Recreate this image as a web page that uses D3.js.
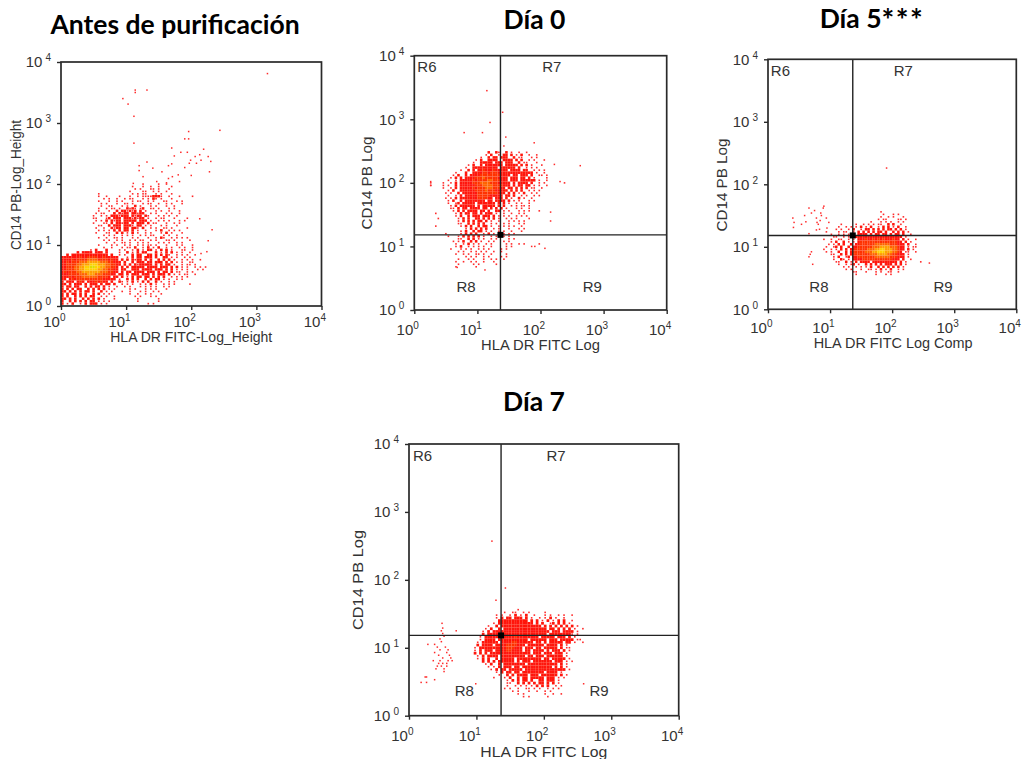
<!DOCTYPE html>
<html>
<head>
<meta charset="utf-8">
<script src="https://cdn.jsdelivr.net/npm/d3@7"></script>
<style>
  body { margin: 0; background: #fff; }
  svg { display: block; }
</style>
</head>
<body>
<div id="chart"></div>
<script>
const tickValues = [1, 10, 100, 1000, 10000];
const gateX = 23.2, gateY = 15.2;
const regionLabels = [["R6", 0.2, 3.82], ["R7", 2.18, 3.82], ["R8", 0.82, 0.36], ["R9", 2.82, 0.36]];
const levelColors = { 1: "#ff2a2a", 2: "#ff1208", 3: "#ff3200", 4: "#ff6400", 5: "#ffa000", 6: "#ffd000", 7: "#dcdc00" };

// event density, one text row per 0.04 decade of CD14, one character per 0.04 decade of HLA DR
// . empty, 1 single event, 2..7 rising density. origin is [log x of first column, log y of first row]
const gridOriginA = [0, 1.98];
const densityA = [
"...............................1.....1..1......",
"...........................1...1..1..1....1",
"............................1.1...11.1...1",
"..........................1....11..1.1..1",
"..............1............1.1.11...1.1...1",
"..............1..1....1...1..1.11112221..1...1....1",
"................1.1..1..1.11...1.1.21.1...1",
"..............1...1..1.1...1.11..1.1...11...1.1",
"...............1.1...1..11.1...1.11..1..1.1...1",
"...............1..11...1.1..2.1...1.1...1..1",
"..............1..1.11.1..2121.12..11.1...1.1",
"..............1...1..2.221212.2.1...1.1..1...1",
".............1.11...2.2122.22122..1.1...1.1..1",
"............1..1.1.2221222.2122.21...1.1.1..1",
"............11...12.222.22212122.1..1.11...1....1",
".............1.1.2.2122.22222.222.1..1.1.1...1.1",
"............1...11.2.22122.2.222.2.11...1..1.1",
"..............11..2.222.2221.22.1.1...1.1...1",
".............1..1..2122.22.221.2..1.1..11.1.....1",
"..............1.1.1.2.2.22.2.1..1...1.2..1.1.1",
".............1...11..2.2.1.2.1..1.1...1.2.1...1",
"................1.1.1..1.1.1..1.1.11...1.1..1",
"..............1..1..11.1...1.1...1..1.21..1.1.1.1",
"................1.1..1.1..1.1.11..1.1...11.1.....1",
".................1..1..11.1..1.1.1...1.1.1..1.1",
"..............1....1.1..1.1..1.1.11.1...1...1.1...1",
"................1..1...1.11.2..1.2.1.2..1.1..1.1..1",
"...........1.2...2....1.1..1.2.1.22.1.2.2.1...11..1",
"......2.2222.222.2....1..2.1.2.22...2.1.2.2.1.1..1",
"..2.22222222222222.2..1.1..2.22..22.2.2.21..1.1.1..1",
"2222222322333322322222...1.2.22.222.2..22.1.1..1.1",
"2222323333444433332322.2.2.2122.2.2..2.2.2.1..1.1.1..1",
"22323334445555544433222.2..2.222.22.222.2.2.1.1..11",
"22333344555666555443322.2.2.2122222.2.2.22.1..1.11.1",
"2233344556677665544332.2.2.22222.2222.222.2.2.1.1..1.1.1",
"2233344556666655443322.22..222.2222.222.2.2.1.1.1...1.1",
"2323334455555554443322.2.22.2222.222.2.22.2.11..1.1",
"222333344455544433322.22.2.222.222.2.222.2.1.1.11..1",
"2223233344444433332.22.2.1.2.22.22.2.2.2..1.1.1.1",
"22.232333333333322222.1..2.2.2..2.2.22.1.1..1.1",
"2.222.232.22232322.2..21.1.2.1.2.2..2.1..1.1",
"22.2.222.2.222.2.22.2..1.1.1..1.1.2.1..1.1.1.....1",
"2.22.22..2.2.22.2.1..1..1.1...1.1.1.1..1.1",
"2.2.2.22..2.2.2.2.1.1.....1.1...1.1.1...1",
"22.2.2.2.22.2..2.1.1...1..1...1.1..1.1",
"2.2.22.2.2..2.2.1.1.......1..1..1.1...1",
"2.2..2.2.2.22..1.1..1.......1.1...1.1",
"22.2.2..2.2.2.2.1...1........1.......1",
"2..2.2.2.2.22.1.1.1..........1.......1",
"2.1.2..1.2.222.1.1...............1.1"
];
const outliersA = [[3.17,3.81],[1.14,3.54],[1.14,3.5],[1.32,3.54],[.95,3.4],[1.03,3.31],[1.12,3.11],[1.12,2.67],[2.44,2.88],[1.96,2.86],[1.9,2.74],[1.96,2.74],
  [1.7,2.59],[2.19,2.57],[1.94,2.52],[1.84,2.52],[1.74,2.46],[2.13,2.48],[2.06,2.45],[2.26,2.45],[2.15,2.39],[2.3,2.37],[1.99,2.39],[2.08,2.34],[1.97,2.34],[1.9,2.27],
  [2.28,2.2],[2,2.14],[1.7,2.33],[1.65,2.3],[1.2,2.3],[1.2,2.22],[1.32,2.36],[1.41,2.26],[1.55,2.2],[1.65,2.09],[1.71,2.12],[1.8,2.15],[1.82,2.04],[1.26,2.12],[1.11,2.01],
  [1.47,2.04],[1.62,2.02],[2.13,1.43],[2.32,1.25],[2.26,1.07],[2.15,.86],[2.24,.89]];

const gridOriginB = [0.24, 2.46];
const densityB = [
".......................2..21..2.1..1..1",
"......................1.2..1.22.2.1.2..1..1",
"....................1..2.22.222..2.11...1.1",
"..................1.2..2222..2222.2.2..1.1...1",
".................1..22222.222.222..2.11...1",
"...............1.2..2.2222222.22222.2.2.1...1",
"..............1..2222222222.222222.2..1.1.1",
"............1..2.2.223222322222.2222.22..1.1.1",
"..........1...2..222233233322222222222222.1..1",
".........1.2..2.2222333333332222.22.222.2..11.1",
"........1.2.2.22223334333332222.222.22.2.1....1",
".......1..1.2222232333344333222.222.222222.1..1",
"1....1..1.2.22222333444433322222.2.2222.2..1.1.......1",
"1....1.1..2.22222233344443333222.2.22.22.1.1..1",
".....1..1.2.222223233344433322.22.2.2.2.11..1",
".......1.2..2222223333433322222.2.2.2..1.1.1",
"......1.1..2.22222233333333222.2.2.1.2..1.1",
".......1..1.2.222223333322222.22.2..1.1..1.1",
"......1.1.2.2222222333322.222.2.1..2.1..1",
".......1.2..2.22222222.22.2222.2.1.1...1.1",
".......1..12.22222.2222222.2.2.1..1.1..1",
"........1.2.222222.2.22222.2.2..1.1.11.1",
"........11.2.22.2222.22.2.2.2.1...1.1..1",
".........1.2.2.2222.22.2..22.1.1...1.1.1...1",
"..1.......1.2.22.22.2.222.1..1..1..1.1",
"..........1.2..2.222.222.2.1.1.1..1.1.1",
"...1.......1.2.2..22.2.2.2.1..1.1.1....1",
"...........1.2.2.2.22.2.1..1...1.1.1.1",
"...........11..2.2.2.2..1.1..1.1...1.1",
"..1.........1.2.2..2.22.1..1.1.1.1..1",
"..............1.2.2.2.2..1.1...1...1.1",
"............1.2..2.22.1.1..1.1..1...1",
"......1.....1.2.2.2..1.2.1...1.1.1",
".......1...1.2.2.2.2.1..1.1..1.1",
"...........11..2.2.1.1..1.1....1.1",
".........1.1.2..2.2.1..1.1...1.1",
"..........1..1.2.1.1..1.1.....1.1..1.1.....1",
"..........1.2..1.1.1.1..1.....1.1",
"........1...1.1.1..1.1.1....1.1",
"...........1.1..1.1.1.1..1..1",
"..........1..1.1..11.1..1.....1",
"..............1.1.1..1.1....1.1",
"...........1...1.1...1..1.1..1",
"..........1..1..1.1..1...1",
"...........1.....1.1......1",
"..........1.......1"
];
const outliersB = [[1.15,3.45],[1.4,3.11],[1.2,2.95],[.79,2.79],[1.08,2.79],[1.45,2.72],[1.9,2.63],[1.42,2.58],[2.22,2.29],[2.63,2.27],[2.31,2.02],[.26,2.02],[.26,1.96],
  [2.16,1.54],[2.16,1.4],[2.07,.97],[1.86,1],[1.91,1],[.68,.67],[1.12,.63]];

const gridOriginC = [0.8, 1.54];
const densityC = [
".........................1......",
"..........................1...1.1",
".........................1..1.1...1",
"........................1.11....11.1",
".....................1...1.1.1..1.1",
".........1.....1..1.1.1.11..2.2..1",
"........1..1.1.1.2.1.2..1.2.2.1.2..1",
".......1.1..1.2..1.22.2.2.2.22.2.2.1",
"...1....1.11..1.2.2.2.2.22.2..2.2.2.1",
".....1..1.1.1.1.2222.2.22.22.2.22.2..1",
"......11..1.1.22222222222222222222.1",
"..1..1..11..1.1.22232232323222322.2.1..1",
".....1.2..2.1.1.233333333333333322.2.1",
"....1.1.2.2..2.22333333444444333222.2..1",
"...1..12.2..2.223333334445555444322.1.11",
"..1..1.1.2.2.2233333444556655544322.2.1",
"...1.1..2..2.233333444556665554432.11..1",
".....11..2.2.2333333344455554433222.1",
"......1.2..12.223333333444444333222.1",
"......1..21.1.2222333333333333222.2..1",
".......11..2.1.2.2222.2222222222.2.1.....1",
"........1..1.12.1..2.2.2.2.222.2.2.1",
"..........1.1..1.1.1.2..2.2.2.2.2.1",
"...........1.1...1..11.1.2.1.2..1.1",
"..............11...1...1.1..11..1",
"...............1.......1...1.1"
];
const outliersC = [[1.91,2.26],[.66,1.62],[.9,1.65],[.89,1.62],[.75,1.58],[.7,1.54],[.59,1.5],[.4,1.46],[.42,1.39],[.41,1.31],[.54,1.36],[.61,1.4],[.78,1.46],[.81,1.36],[.79,1.39],
  [.84,1.42],[.86,1.5],[.94,1.46],[.98,1.39],[.95,1.3],[.83,1.28],[.78,1.27],[.66,1.21],[.85,1.54],[.7,.92],[.68,.88],[.66,.84],[2.6,.74],[.72,.72]];

const gridOriginD = [0.84, 1.54];
const densityD = [
"...................1",
"..............1..11..1.1.....1",
"...........1.1..1.2.1.2..1...1.1..1.1..1",
"...........1.2.22.222.2.1..1.1.2.1..1",
"............22222222222.2.2.1.2.1.2.2..1",
"..........1.2222222222222.2.2..12.2.2.1",
"........1..2.222222222222222.2.2.2.2.2.2.1",
".......1.2..2.2222222222222222.22.2.2.2.1..1",
"......1.2.222222222222222222222.222.2222.1",
"......2.2222222222222222222222.222222221.1",
".....1.22222222222322222222.22222.222.2.1",
".....1.2222.22222222222.222222.222.22222.11",
"....1.222222.222233222222.22.2.22222.22.1..1",
"....2.2222.22223333222.222222.2222.2.1",
"...1.2222222222333222.222.22.22222.2.11",
"...1.2.222.2222332222.22.2222.2.222.2.1",
"...2.2.2.222222222222222.222.222.222.1",
"....1.2.2222.222222222.22.222.222222.1",
"....1.2.2..2.22222.222222222.22.22222.1",
"......2.2.2.222222.2.222.2222222.222.1.1",
".......1.2..2.22222222.22222222222.2.1",
"........1.1.2.222.22.22222222222.2.2.1",
".........1.2.22.22222.222222222222222.1",
"...........1.2.22.22.22222222.2222.1",
"............1..2.2.2222.222.222222.2.1",
"..........1...1.2..2.22.22222.222.1.1",
"...............1.2.2.22.2..22.222.1",
"...............11..2.2.2.2.22.2.2.1",
"...............1..1.1.1.1.2.2.2..1.1",
"..............1.1..1..11.1.1..1.1.1",
".................1.1...1..1..1.1",
"...................1.1.......1..1..1",
".....................1.1......1"
];
const outliersD = [[1.23,2.57],[1.43,1.88],[1.29,1.7],[.49,1.36],[.5,1.29],[.48,1.25],[.7,1.25],[.5,1.21],[.52,1.17],[.46,1.13],[.48,1.09],[.28,1.05],[.38,1.05],[.42,1.01],[.54,1.01],[.46,.97],[.58,.97],
  [.38,.93],[.56,.93],[.44,.89],[.6,.89],[.5,.85],[.62,.85],[.36,.81],[.46,.81],[.58,.81],[.64,.81],[.44,.77],[.5,.77],[.56,.77],[.42,.73],[.48,.73],[.56,.73],[.4,.69],[.52,.69],[.52,.65],[.24,.57],[.26,.57],[.38,.53],[.18,.49],[.26,.49],[.99,.47],[2.59,.47]];

// where each plot sits on the page and its labels
const panels = [
  { title: "Antes de purificación", titleX: 175, titleY: 34, left: 61, right: 321.5, top: 62, bottom: 306, xLabel: "HLA DR FITC-Log_Height", yLabel: "CD14 PB-Log_Height", xLabelY: 342, yLabelX: 21, yLabelC: 185, xLen: 162, yLen: 130, xPad: 6, grid: densityA, origin: gridOriginA, outliers: outliersA, gates: false },
  { title: "Día 0", titleX: 534.5, titleY: 29, left: 414.3, right: 666.7, top: 55.7, bottom: 310, xLabel: "HLA DR FITC Log", yLabel: "CD14 PB Log", xLabelY: 350, yLabelX: 372, yLabelC: 183, xLen: 119, yLen: 93, xPad: 10, grid: densityB, origin: gridOriginB, outliers: outliersB, gates: true },
  { title: "Día 5", stars: "***", titleX: 872, titleY: 28, left: 768, right: 1016.3, top: 59.3, bottom: 309.3, xLabel: "HLA DR FITC Log Comp", yLabel: "CD14 PB Log", xLabelY: 348, yLabelX: 727, yLabelC: 185, xLen: 159, yLen: 93, xPad: 9, grid: densityC, origin: gridOriginC, outliers: outliersC, gates: true },
  { title: "Día 7", titleX: 534, titleY: 411, left: 409, right: 678.7, top: 444, bottom: 715.7, xLabel: "HLA DR FITC Log", yLabel: "CD14 PB Log", xLabelY: 757, yLabelX: 363, yLabelC: 580, xLen: 127, yLen: 100, xPad: 11, grid: densityD, origin: gridOriginD, outliers: outliersD, gates: true }
];

const cellDecades = 0.04;
const axisFont = "'Liberation Sans', Arial, sans-serif";
const textColor = "#333";
const svg = d3.select("#chart").append("svg").attr("width", 1022).attr("height", 759);
const defs = svg.append("defs");
defs.append("filter").attr("id", "soft")
  .append("feGaussianBlur").attr("stdDeviation", 0.45);

panels.forEach((p, idx) => {
  const x = d3.scaleLog().domain([1, 10000]).range([p.left, p.right]);
  const y = d3.scaleLog().domain([1, 10000]).range([p.bottom, p.top]);
  const g = svg.append("g");

  const title = g.append("text")
    .attr("x", p.titleX).attr("y", p.titleY)
    .attr("text-anchor", "middle")
    .style("font-family", "Lato, sans-serif").style("font-weight", "bold").style("font-size", "26.5px")
    .text(p.title);
  if (p.stars) title.append("tspan").style("font-size", "30px").attr("dy", 3).style("letter-spacing", "1.5px").text(p.stars);

  defs.append("clipPath").attr("id", "clip" + idx).append("rect")
    .attr("x", p.left).attr("y", p.top).attr("width", p.right - p.left).attr("height", p.bottom - p.top);
  const plot = g.append("g").attr("clip-path", `url(#clip${idx})`).append("g").attr("filter", "url(#soft)");

  // density cells
  const cells = [];
  p.grid.forEach((row, r) => {
    [...row].forEach((ch, c) => {
      if (ch !== ".") cells.push({ lx: p.origin[0] + c * cellDecades, ly: p.origin[1] - r * cellDecades, level: +ch });
    });
  });
  const cellW = d => x(10 ** (d.lx + cellDecades)) - x(10 ** d.lx);
  const cellH = d => y(10 ** d.ly) - y(10 ** (d.ly + cellDecades));
  plot.selectAll("rect.cell").data(cells).join("rect")
    .attr("class", "cell")
    .attr("x", d => x(10 ** d.lx) + (d.level === 1 ? 0.5 : 0))
    .attr("y", d => y(10 ** (d.ly + cellDecades)) + (d.level === 1 ? 0.5 : 0))
    .attr("width", d => d.level === 1 ? 1.6 : cellW(d))
    .attr("height", d => d.level === 1 ? 1.6 : cellH(d))
    .attr("fill", d => levelColors[d.level]);

  plot.selectAll("rect.outlier").data(p.outliers).join("rect")
    .attr("class", "outlier")
    .attr("x", d => x(10 ** d[0]) - 0.75)
    .attr("y", d => y(10 ** d[1]) - 0.75)
    .attr("width", 1.5).attr("height", 1.5)
    .attr("fill", levelColors[1]);

  if (p.gates) {
    g.append("line").attr("x1", x(gateX)).attr("x2", x(gateX)).attr("y1", p.top).attr("y2", p.bottom)
      .attr("stroke", "#222").attr("stroke-width", 1.4);
    g.append("line").attr("x1", p.left).attr("x2", p.right).attr("y1", y(gateY)).attr("y2", y(gateY))
      .attr("stroke", "#222").attr("stroke-width", 1.4);
    g.append("rect").attr("x", x(gateX) - 3).attr("y", y(gateY) - 3).attr("width", 6).attr("height", 6).attr("fill", "#000");
    g.selectAll("text.region").data(regionLabels).join("text")
      .attr("class", "region")
      .attr("x", d => x(10 ** d[1]))
      .attr("y", d => y(10 ** d[2]) + 5)
      .attr("text-anchor", "middle")
      .style("font-family", axisFont).style("font-size", "15px").attr("fill", textColor)
      .text(d => d[0]);
  }

  g.append("rect").attr("x", p.left).attr("y", p.top).attr("width", p.right - p.left).attr("height", p.bottom - p.top)
    .attr("fill", "none").attr("stroke", "#2a2a2a").attr("stroke-width", 1.7);

  const xAxis = g.append("g").attr("transform", `translate(0,${p.bottom})`)
    .call(d3.axisBottom(x).tickValues(tickValues).tickSize(4).tickPadding(p.xPad));
  const yAxis = g.append("g").attr("transform", `translate(${p.left},0)`)
    .call(d3.axisLeft(y).tickValues(tickValues).tickSize(4).tickPadding(6));
  [xAxis, yAxis].forEach(a => {
    a.select(".domain").remove();
    a.selectAll(".tick line").attr("stroke", "#2a2a2a").attr("stroke-width", 1.4);
    a.selectAll(".tick text")
      .style("font-family", axisFont).style("font-size", "15px").attr("fill", textColor)
      .each(function(d) {
        const t = d3.select(this).text("10");
        if (a === xAxis) t.attr("text-anchor", "end").attr("dx", 4);
        t.append("tspan").attr("dx", a === yAxis ? 3 : 0).attr("dy", -6).style("font-size", "10px").text(Math.round(Math.log10(d)));
      });
  });

  g.append("text").attr("x", (p.left + p.right) / 2 + (idx === 2 ? 1 : 0)).attr("y", p.xLabelY)
    .attr("text-anchor", "middle")
    .attr("textLength", p.xLen).attr("lengthAdjust", "spacingAndGlyphs")
    .style("font-family", axisFont).style("font-size", "14px").attr("fill", textColor)
    .text(p.xLabel);
  g.append("text").attr("transform", `translate(${p.yLabelX},${p.yLabelC}) rotate(-90)`)
    .attr("text-anchor", "middle")
    .attr("textLength", p.yLen).attr("lengthAdjust", "spacingAndGlyphs")
    .style("font-family", axisFont).style("font-size", "14px").attr("fill", textColor)
    .text(p.yLabel);
});
</script>
</body>
</html>
